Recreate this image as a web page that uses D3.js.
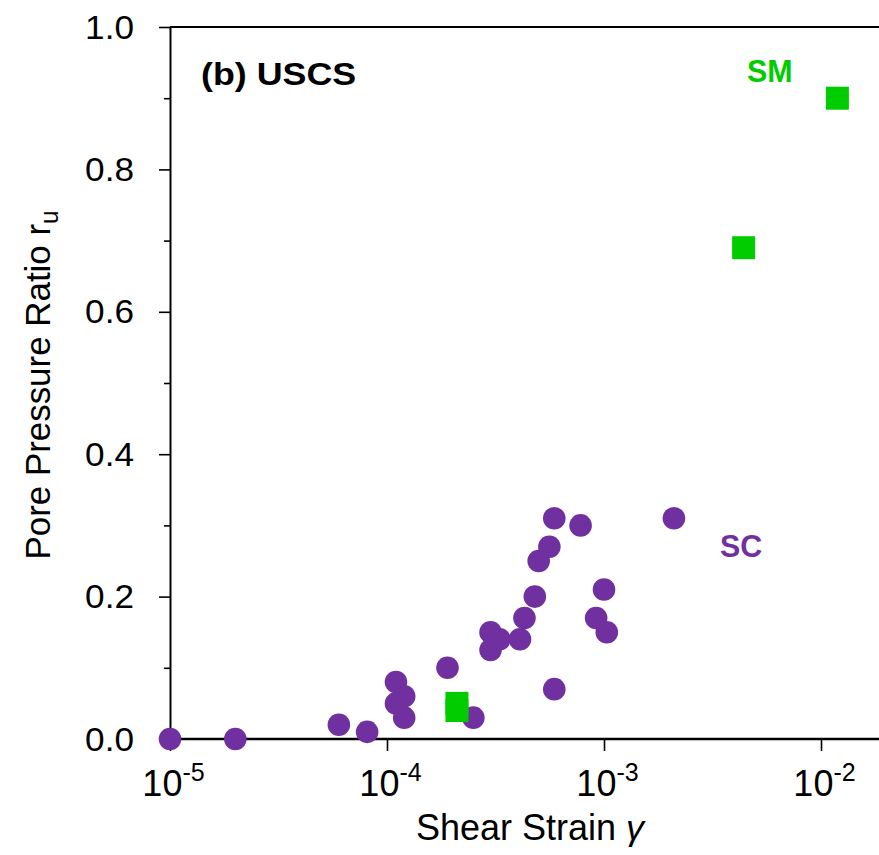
<!DOCTYPE html>
<html>
<head>
<meta charset="utf-8">
<script src="https://cdn.jsdelivr.net/npm/d3@7"></script>
<style>
  html, body { margin: 0; padding: 0; background: #fff; }
  svg { display: block; font-family: "Liberation Sans", Arial, Helvetica, sans-serif; }
</style>
</head>
<body>
<svg id="chart" width="879" height="855"></svg>
<script>
// ---- data ----
const scStrain = [1e-5, 2e-5, 6e-5, 8.1e-5, 1.1e-4, 1.1e-4, 1.2e-4, 1.2e-4, 1.9e-4, 2.5e-4,
  3e-4, 3e-4, 3.3e-4, 4.1e-4, 4.3e-4, 4.8e-4, 5e-4, 5.6e-4, 5.9e-4, 5.9e-4,
  7.8e-4, 9.2e-4, 1e-3, 1.03e-3, 2.1e-3];
const scRu = [0, 0, 0.02, 0.01, 0.08, 0.05, 0.06, 0.03, 0.10, 0.03,
  0.15, 0.125, 0.14, 0.14, 0.17, 0.20, 0.25, 0.27, 0.31, 0.07,
  0.30, 0.17, 0.21, 0.15, 0.31];
const smStrain = [2.1e-4, 2.1e-4, 4.4e-3, 1.19e-2];
const smRu = [0.05, 0.04, 0.69, 0.90];
const xTickExps = [-5, -4, -3, -2];
const yMajorTicks = [0, 0.2, 0.4, 0.6, 0.8, 1.0];
const yMinorTicks = [0.1, 0.3, 0.5, 0.7, 0.9];
const titleText = "(b) USCS";
const xLabel = "Shear Strain ";
const yLabel = "Pore Pressure Ratio r";

(function () {
const purple = "#7030A0";
const green = "#00CC00";

const svg = d3.select("#chart");
const W = 879;
const mLeft = 170, mTop = 27, mBottom = 739;

const x = d3.scaleLog().domain([1e-5, 1e-2]).range([mLeft, 821]);
const y = d3.scaleLinear().domain([0, 1]).range([mBottom, mTop]);

// y axis major
const yAx = svg.append("g").attr("transform", `translate(${mLeft},0)`)
  .call(d3.axisLeft(y).tickValues(yMajorTicks).tickSize(11).tickSizeOuter(0).tickFormat(d3.format(".1f")));
yAx.select(".domain").attr("stroke-width", 2).attr("stroke", "#000");
yAx.selectAll(".tick line").attr("stroke-width", 1.6).attr("stroke", "#000");
yAx.selectAll(".tick text")
  .attr("x", null).attr("dy", null)
  .attr("text-anchor", "end")
  .attr("transform", "translate(-36,11) scale(1.1,1.03)")
  .attr("font-size", 32)
  .attr("font-family", "Liberation Sans, Arial, sans-serif")
  .attr("fill", "#000");

// y axis minor
const yMin = svg.append("g").attr("transform", `translate(${mLeft},0)`)
  .call(d3.axisLeft(y).tickValues(yMinorTicks).tickSize(6).tickFormat(""));
yMin.select(".domain").remove();
yMin.selectAll(".tick line").attr("stroke-width", 1.6).attr("stroke", "#000");

// x axis
const xAx = svg.append("g").attr("transform", `translate(0,${mBottom})`)
  .call(d3.axisBottom(x).tickValues(xTickExps.map(e => Math.pow(10, e))).tickSize(12).tickFormat(""));
xAx.select(".domain").remove();
xAx.selectAll(".tick line").attr("stroke-width", 1.6).attr("stroke", "#000");
xAx.selectAll(".tick").each(function(d, i) {
  const t = d3.select(this).append("text")
    .attr("x", 3).attr("y", 57)
    .attr("text-anchor", "middle")
    .attr("fill", "#000")
    .attr("font-size", 36)
    .attr("font-family", "Liberation Sans, Arial, sans-serif");
  t.append("tspan").text("10");
  t.append("tspan").attr("font-size", 25).attr("dy", -15).text(String(xTickExps[i]));
});
svg.append("line").attr("x1", mLeft - 1).attr("x2", W).attr("y1", mBottom).attr("y2", mBottom)
  .attr("stroke", "#000").attr("stroke-width", 2.5);
// top frame
svg.append("line").attr("x1", mLeft).attr("x2", W).attr("y1", mTop).attr("y2", mTop)
  .attr("stroke", "#000").attr("stroke-width", 2);

// axis labels
const xl = svg.append("text").attr("x", 530).attr("y", 840).attr("text-anchor", "middle")
  .attr("font-size", 36).attr("fill", "#000");
xl.append("tspan").text(xLabel);
xl.append("tspan").attr("font-style", "italic").text("γ");

const yl = svg.append("text").attr("transform", "translate(50,385) rotate(-90) scale(0.97,1)")
  .attr("text-anchor", "middle").attr("font-size", 36).attr("fill", "#000");
yl.append("tspan").text(yLabel);
yl.append("tspan").attr("font-size", 25).attr("dy", 8).text("u");

// title
svg.append("text").attr("transform", "translate(201,85) scale(1.12,1)")
  .attr("font-size", 32).attr("font-weight", "bold").attr("fill", "#000").text(titleText);

// series labels
svg.append("text").attr("transform", "translate(747,82) scale(0.95,1)").attr("font-size", 32).attr("font-weight", "bold")
  .attr("fill", green).text("SM");
svg.append("text").attr("transform", "translate(720,557) scale(0.95,1)").attr("font-size", 32).attr("font-weight", "bold")
  .attr("fill", purple).text("SC");

// SC circles
svg.append("g").selectAll("circle").data(scStrain.map((s, i) => [s, scRu[i]])).join("circle")
  .attr("cx", d => x(d[0])).attr("cy", d => y(d[1])).attr("r", 11.3)
  .attr("fill", purple);

// SM squares
const sq = 23;
svg.append("g").selectAll("rect").data(smStrain.map((s, i) => [s, smRu[i]])).join("rect")
  .attr("x", d => x(d[0]) - sq / 2).attr("y", d => y(d[1]) - sq / 2)
  .attr("width", sq).attr("height", sq)
  .attr("fill", green);
})();
</script>
</body>
</html>
